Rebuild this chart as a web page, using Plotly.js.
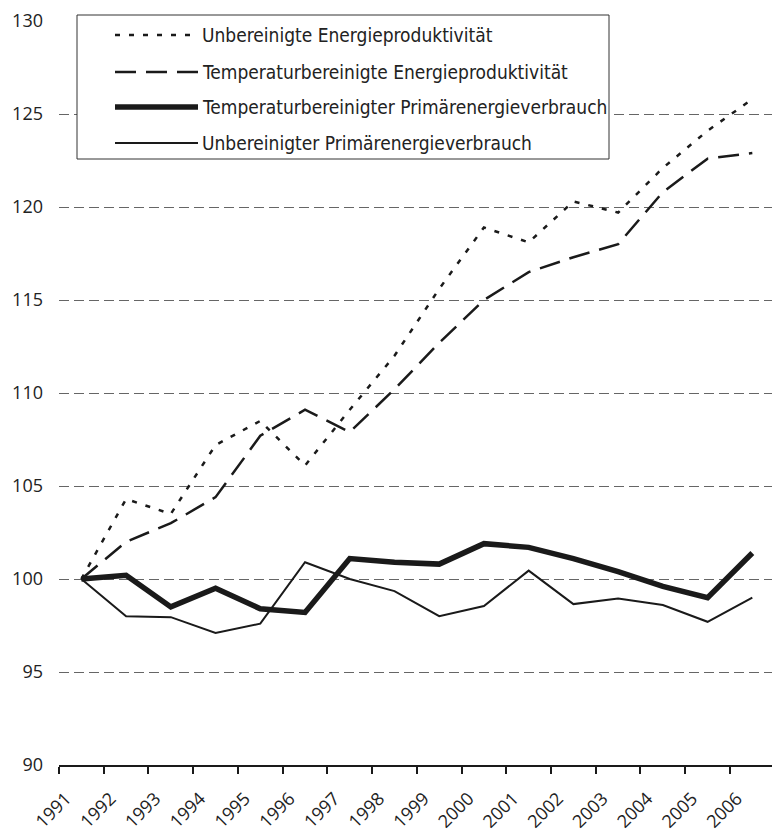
<!DOCTYPE html>
<html>
<head>
<meta charset="utf-8">
<script src="https://cdn.plot.ly/plotly-3.0.1.min.js"></script>
<style>
  html, body { margin: 0; padding: 0; background: #fff; }
  #chart { width: 772px; height: 833px; }
</style>
</head>
<body>
<div id="chart"></div>
<script>
// ---- data ----
const years = [1991,1992,1993,1994,1995,1996,1997,1998,1999,2000,2001,2002,2003,2004,2005,2006];
const yearLabels = ["1991","1992","1993","1994","1995","1996","1997","1998","1999","2000","2001","2002","2003","2004","2005","2006"];
const seriesNames = [
  "Unbereinigte Energieproduktivität",
  "Temperaturbereinigte Energieproduktivität",
  "Temperaturbereinigter Primärenergieverbrauch",
  "Unbereinigter Primärenergieverbrauch"
];
const unbereinigteProduktivitaet = [100.0,104.3,103.5,107.2,108.5,106.1,109.1,112.0,115.6,118.9,118.1,120.3,119.7,122.1,124.1,125.8];
const temperaturProduktivitaet   = [100.0,102.0,103.0,104.4,107.7,109.1,107.9,110.2,112.7,115.0,116.5,117.3,118.0,120.8,122.6,122.9];
const temperaturVerbrauch        = [100.0,100.2,98.5,99.5,98.4,98.2,101.1,100.9,100.8,101.9,101.7,101.1,100.4,99.6,99.0,101.4];
const unbereinigterVerbrauch     = [100.0,98.0,97.95,97.1,97.6,100.9,100.0,99.35,98.0,98.55,100.45,98.65,98.95,98.6,97.7,99.0];
const yTicks = [90,95,100,105,110,115,120,125,130];

// ---- styles ----
const FONT = "Open Sans, Liberation Sans, sans-serif";
const NARROW = "DejaVu Sans Condensed, Liberation Sans Narrow, Open Sans, sans-serif";
const INK = "#1a1a1a";
const styles = [
  {width: 2.5, dash: "5px,9px"},
  {width: 2.5, dash: "21px,10px"},
  {width: 5.5, dash: "solid"},
  {width: 2,   dash: "solid"}
];
const values = [unbereinigteProduktivitaet, temperaturProduktivitaet, temperaturVerbrauch, unbereinigterVerbrauch];

const W = 772, H = 833;
const M = {l: 59, r: 0, t: 21, b: 68};
const plotW = W - M.l - M.r, plotH = H - M.t - M.b;
const px = x => (x - M.l) / plotW;          // pixel -> paper x
const py = y => (H - M.b - y) / plotH;      // pixel -> paper y

const traces = values.map((v, i) => ({
  type: "scatter", mode: "lines", x: years, y: v, name: seriesNames[i],
  line: {color: INK, width: styles[i].width, dash: styles[i].dash},
  showlegend: false, hoverinfo: "skip"
}));

// manual legend (box, sample lines, labels)
const legendRows = [35, 72, 107, 143];
const shapes = [{
  type: "rect", xref: "paper", yref: "paper",
  x0: px(77), x1: px(609), y0: py(159), y1: py(15),
  line: {color: "#333", width: 1}, fillcolor: "#fff", layer: "above"
}];
const annotations = [];
seriesNames.forEach((n, i) => {
  shapes.push({
    type: "line", xref: "paper", yref: "paper",
    x0: px(115), x1: px(198), y0: py(legendRows[i]), y1: py(legendRows[i]),
    line: {color: INK, width: styles[i].width, dash: styles[i].dash}, layer: "above"
  });
  annotations.push({
    xref: "paper", yref: "paper", x: px(200), y: py(legendRows[i]),
    xanchor: "left", yanchor: "middle", showarrow: false, text: n,
    font: {family: NARROW, size: 19, color: "#222"}
  });
});

const layout = {
  width: W, height: H,
  margin: M,
  paper_bgcolor: "#fff", plot_bgcolor: "#fff",
  showlegend: false,
  xaxis: {
    range: [1990.5, 1990.5 + plotW / 44.73],
    tickmode: "array",
    tickvals: years.map(y => y - 0.5),
    ticktext: yearLabels,
    tickangle: -45,
    ticks: "outside", ticklen: 7, tickwidth: 2, tickcolor: INK,
    showline: true, linecolor: INK, linewidth: 2,
    showgrid: false, zeroline: false,
    ticklabelstandoff: 7,
    ticklabelshift: 7,
    tickfont: {family: FONT, size: 18, color: "#222"}
  },
  yaxis: {
    range: [90, 130],
    tickmode: "array", tickvals: yTicks, ticktext: yTicks.map(String),
    ticks: "", showline: false, zeroline: false,
    showgrid: true, gridcolor: "#666", gridwidth: 1, griddash: "10px,5px",
    ticklabelstandoff: 15,
    tickfont: {family: FONT, size: 18, color: "#222"}
  },
  shapes: shapes,
  annotations: annotations
};

Plotly.newPlot("chart", traces, layout, {displayModeBar: false, staticPlot: true});
</script>
</body>
</html>
